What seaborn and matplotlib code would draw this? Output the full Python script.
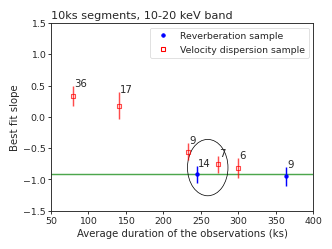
import pandas as pd
import seaborn as sns
import matplotlib.pyplot as plt
from matplotlib.patches import Ellipse
from matplotlib.lines import Line2D

# reverberation sample (blue)
rev_x = [245, 364]
rev_y = [-0.91, -0.95]
rev_lo = [0.14, 0.16]
rev_hi = [0.12, 0.15]
rev_n = ['14', '9']

# velocity dispersion sample (red)
vel_x = [80, 141, 233, 273, 300]
vel_y = [0.33, 0.18, -0.56, -0.75, -0.82]
vel_lo = [0.16, 0.21, 0.13, 0.14, 0.16]
vel_hi = [0.16, 0.21, 0.14, 0.12, 0.16]
vel_n = ['36', '17', '9', '7', '6']

fit_level = -0.91

sns.set_theme(style="ticks")
plt.rcParams['font.family'] = ['DejaVu Sans']

fig, ax = plt.subplots(figsize=(6.4, 4.8), dpi=52)
fig.subplots_adjust(left=0.153, right=0.942, top=0.906, bottom=0.153)

df_rev = pd.DataFrame({'x': rev_x, 'y': rev_y})
df_vel = pd.DataFrame({'x': vel_x, 'y': vel_y})

ax.axhline(fit_level, color='green', alpha=0.7, lw=2, zorder=1)

ax.errorbar(vel_x, vel_y, yerr=[vel_lo, vel_hi], fmt='none', ecolor='red', alpha=0.7, lw=2, zorder=2)
sns.scatterplot(data=df_vel, x='x', y='y', marker='s', s=30, facecolor='none',
                edgecolor='red', linewidth=1.5, alpha=0.7, ax=ax, zorder=3)
ax.errorbar(rev_x, rev_y, yerr=[rev_lo, rev_hi], fmt='none', ecolor='blue', lw=2, zorder=2)
sns.scatterplot(data=df_rev, x='x', y='y', marker='o', s=30, color='blue',
                edgecolor='blue', ax=ax, zorder=3)

for x, y, h, n in zip(vel_x, vel_y, vel_hi, vel_n):
    ax.text(x + 1, y + h, n, fontsize=14)
for x, y, h, n in zip(rev_x, rev_y, rev_hi, rev_n):
    ax.text(x + 1, y + h, n, fontsize=14)

ax.add_patch(Ellipse((259, -0.81), 54, 0.9, fill=False, edgecolor='black', lw=1))

ax.set_xlim(50, 400)
ax.set_ylim(-1.5, 1.5)
ax.set_xticks(range(50, 401, 50))
ax.set_yticks([-1.5, -1.0, -0.5, 0.0, 0.5, 1.0, 1.5])
ax.tick_params(labelsize=13, length=4)
ax.set_xlabel('Average duration of the observations (ks)', fontsize=14)
ax.set_ylabel('Best fit slope', fontsize=14)
ax.set_title('10ks segments, 10-20 keV band', fontsize=15.5, loc='left')

handles = [
    Line2D([], [], marker='o', color='blue', ls='none', markersize=5),
    Line2D([], [], marker='s', color='red', mfc='none', ls='none', markersize=5, mew=1.5),
]
ax.legend(handles, ['Reverberation sample', 'Velocity dispersion sample'],
          loc='upper right', fontsize=13, frameon=True)

plt.savefig('out.png', dpi=52)
